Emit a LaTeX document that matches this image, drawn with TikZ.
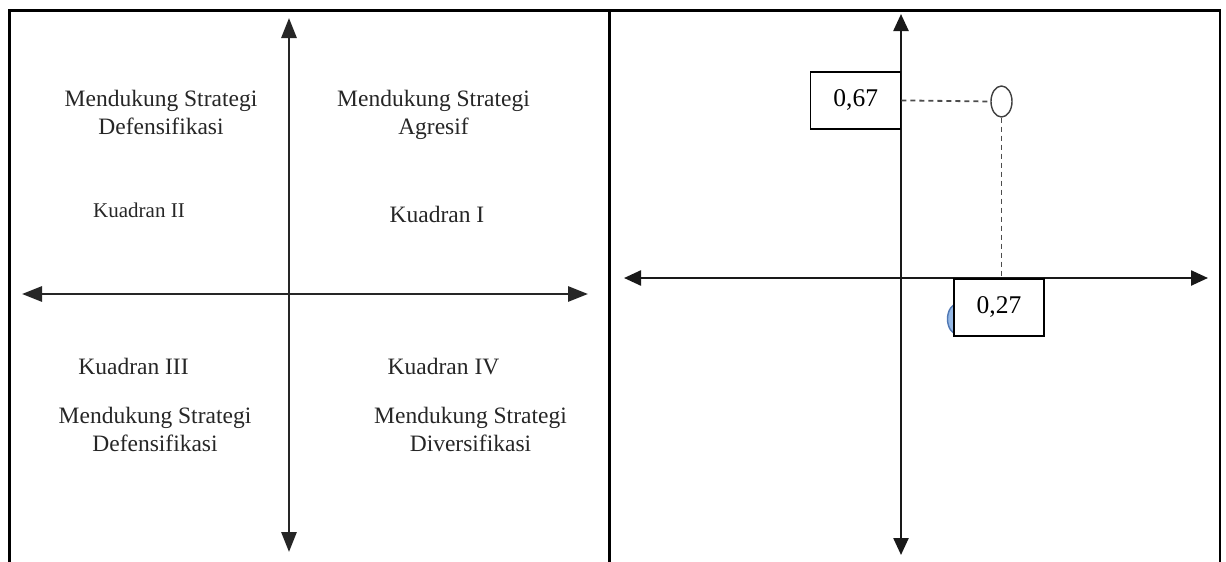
\documentclass[tikz,border=0pt]{standalone}
\usepackage{fontspec}
\setmainfont{Liberation Serif}
\usetikzlibrary{arrows.meta,shapes.geometric}
\tikzset{
  frame/.style={line width=2.6pt, line join=miter},
  axisl/.style={line width=2.8pt, black!85,
    {Triangle[width=15pt,length=20pt]}-{Triangle[width=15pt,length=20pt]}},
  axisr/.style={line width=2.4pt, black!90,
    {Triangle[width=15pt,length=17pt]}-{Triangle[width=15pt,length=17pt]}},
  lbl/.style={font=\fontsize{23.5}{28}\selectfont, text=black!85,
    align=center, inner sep=0pt, anchor=base},
  numbox/.style={draw, line width=1.4pt, fill=white, inner sep=0pt,
    minimum width=90pt, minimum height=57pt,
    font=\fontsize{25.5}{30}\selectfont},
  dot/.style={ellipse, draw=black!75, line width=1.4pt, fill=white,
    inner sep=0pt, minimum width=21pt, minimum height=31pt},
  guide/.style={dashed, dash pattern=on 5pt off 4pt, line width=1.8pt, black!70}
}
\begin{document}
\begin{tikzpicture}[x=1pt,y=-1pt]
  \useasboundingbox (0,0) rectangle (1226,562);
  % table frame
  \draw[frame] (9.7,562) -- (9.7,10.5) -- (1220,10.5) -- (1220,562);
  \draw[frame] (609.5,10.5) -- (609.5,562);
  % left panel: quadrants
  \coordinate (lW) at (22,294);
  \coordinate (lE) at (588,294);
  \coordinate (lN) at (289,18);
  \coordinate (lS) at (289,552);
  \draw[axisl] (lW) -- (lE);
  \draw[axisl] (lN) -- (lS);
  \node[lbl] (def2) at (161,134) {Mendukung Strategi\\Defensifikasi};
  \node[lbl] (agr) at (433.5,134) {Mendukung Strategi\\Agresif};
  \node[lbl, font=\fontsize{21}{25}\selectfont] (k2) at (139,217) {Kuadran II};
  \node[lbl] (k1) at (437,222) {Kuadran I};
  \node[lbl] (k3) at (133.5,374.5) {Kuadran III};
  \node[lbl] (k4) at (443.5,374.5) {Kuadran IV};
  \node[lbl] (def3) at (155,451) {Mendukung Strategi\\Defensifikasi};
  \node[lbl] (div) at (470.5,451) {Mendukung Strategi\\Diversifikasi};
  % right panel: position
  \coordinate (rW) at (624,278);
  \coordinate (rE) at (1208,278);
  \coordinate (rN) at (901,14);
  \coordinate (rS) at (901,555);
  \draw[axisr] (rW) -- (rE);
  \draw[axisr] (rN) -- (rS);
  \node[dot, draw={rgb,255:red,80;green,120;blue,180}, fill={rgb,255:red,150;green,185;blue,230}] (old) at (958,319) {};
  \node[numbox] (v67) at (855.7,100.4) {0,67};
  \node[numbox] (v27) at (999,307.3) {0,27};
  \node[dot] (pos) at (1001.5,101.5) {};
  \draw[guide] (v67.east) -- (pos.west);
  \draw[guide] (pos.south) -- (pos.south |- v27.north);
\end{tikzpicture}
\end{document}
